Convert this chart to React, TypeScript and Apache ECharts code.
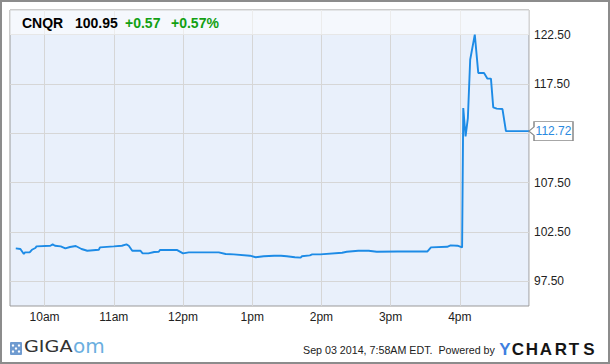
import React, { useEffect, useRef } from "react";
import * as echarts from "echarts";

// ---- data ----
const times = [
  "9:35", "9:39", "9:42", "9:43", "9:47", "9:49", "9:52", "9:53",
  "10:05", "10:07", "10:09", "10:14", "10:18", "10:22", "10:27", "10:32", "10:37", "10:47", "10:48",
  "11:00", "11:07", "11:11", "11:13", "11:16", "11:23", "11:25", "11:30", "11:35", "11:39", "11:40", "11:55",
  "12:00", "12:05", "12:15", "12:31", "12:37", "12:44", "12:58",
  "13:03", "13:10", "13:19", "13:25", "13:30", "13:37", "13:42", "13:43", "13:50", "13:52", "13:59",
  "14:18", "14:22", "14:32", "14:41", "14:48",
  "15:06", "15:32", "15:35", "15:49", "15:52", "15:58",
  "16:02", "16:03", "16:05", "16:07", "16:09", "16:13", "16:16", "16:21", "16:24", "16:27", "16:29", "16:32", "16:37", "16:40",
  "17:00",
];
const prices = [
  100.84, 100.78, 100.27, 100.43, 100.43, 100.7, 100.88, 101.04,
  101.11, 101.24, 101.11, 101.04, 100.84, 100.98, 101.08, 100.78, 100.6, 100.7, 100.94,
  101.04, 101.11, 101.24, 101.11, 100.6, 100.6, 100.33, 100.33, 100.47, 100.5, 100.67, 100.67,
  100.33, 100.43, 100.43, 100.43, 100.27, 100.23, 100.1,
  99.94, 100.04, 100.1, 100.1, 100.04, 99.94, 99.9, 100.04, 100.13, 100.23, 100.23,
  100.4, 100.5, 100.6, 100.6, 100.5,
  100.53, 100.53, 100.94, 101.0, 101.14, 101.11,
  100.94, 115.07, 112.19, 114.05, 119.96, 122.5, 118.62, 118.62, 118.04, 118.04, 115.13, 115.0, 114.96, 112.72,
  112.72,
];
// 112.50 is hidden behind the last-price callout in the reference
const yTickLabels = [97.5, 102.5, 107.5, 117.5, 122.5];
const hourLabels = ["10am", "11am", "12pm", "1pm", "2pm", "3pm", "4pm"];
const firstLabelHour = 10;
const ticker = "CNQR";
const quote = "100.95";
const change = "+0.57";
const changePct = "+0.57%";
const lastPrice = 112.72;
const footerText = "Sep 03 2014, 7:58AM EDT.  Powered by";
const brandLetters = ["Y", "C", "H", "A", "R", "T", "S"];

const toMin = (t: string) => {
  const [h, m] = t.split(":").map(Number);
  return h * 60 + m;
};

const FONT = '"Liberation Sans", Arial, sans-serif';

export default function App() {
  const ref = useRef<HTMLDivElement>(null);

  useEffect(() => {
    document.body.style.margin = "0";
    const chart = echarts.init(ref.current!, null, { renderer: "svg" });
    const data = times.map((t, i) => [toMin(t), prices[i]]);
    const lastTime = toMin(times[times.length - 1]);

    const brandX = [505, 518, 532, 546, 561, 574, 589];

    chart.setOption({
      animation: false,
      grid: {
        left: 10,
        top: 10,
        width: 519,
        height: 296,
        show: true,
        backgroundColor: "#e9f0fb",
        borderColor: "#999999",
        borderWidth: 1,
      },
      xAxis: {
        type: "value",
        min: 570,
        max: 1020,
        interval: 30,
        axisLine: { show: false },
        axisTick: { show: false },
        splitLine: {
          show: true,
          lineStyle: { color: ["rgba(0,0,0,0)", "#d6d6d6"], width: 1 },
        },
        axisLabel: {
          margin: 5,
          color: "#222",
          fontSize: 12,
          fontFamily: FONT,
          formatter: (v: number) => {
            if (v % 60 !== 0) return "";
            const idx = v / 60 - firstLabelHour;
            return hourLabels[idx] ?? "";
          },
        },
      },
      yAxis: {
        type: "value",
        position: "right",
        min: 95,
        max: 125,
        interval: 2.5,
        axisLine: { show: false },
        axisTick: { show: false },
        splitLine: {
          show: true,
          lineStyle: { color: ["rgba(0,0,0,0)", "#d6d6d6"], width: 1 },
        },
        axisLabel: {
          margin: 5,
          color: "#222",
          fontSize: 12,
          fontFamily: FONT,
          formatter: (v: number) => {
            const hit = yTickLabels.find((t) => Math.abs(t - v) < 1e-6);
            return hit !== undefined ? hit.toFixed(2) : "";
          },
        },
      },
      series: [
        {
          type: "line",
          data,
          showSymbol: false,
          symbol: "none",
          lineStyle: { color: "#1d8be6", width: 1.9 },
          itemStyle: { color: "#1d8be6" },
          markArea: {
            silent: true,
            itemStyle: { color: "rgba(255,255,255,0.55)" },
            data: [[{ yAxis: 122.5 }, { yAxis: 125 }]],
          },
          markPoint: {
            silent: true,
            symbol: "path://M0,9L5,5L5,0L44,0L44,18L5,18L5,13Z",
            symbolSize: [44, 19],
            symbolKeepAspect: false,
            symbolOffset: ["50%", 0],
            itemStyle: { color: "#ffffff", borderColor: "#8a8a8a", borderWidth: 1 },
            label: {
              show: true,
              position: "inside",
              offset: [2.5, 0],
              color: "#2a8ae0",
              fontSize: 12,
              fontFamily: FONT,
              formatter: () => lastPrice.toFixed(2),
            },
            data: [{ coord: [lastTime, lastPrice] }],
          },
        },
      ],
      graphic: [
        {
          type: "rect",
          z: 100,
          shape: { x: 1, y: 1, width: 608, height: 362 },
          style: { fill: "none", stroke: "#8c8c8c", lineWidth: 2 },
          silent: true,
        },
        {
          type: "text",
          z: 100,
          x: 22,
          y: 23,
          style: { text: ticker, font: `bold 14px ${FONT}`, fill: "#000", verticalAlign: "middle" },
        },
        {
          type: "text",
          z: 100,
          x: 75,
          y: 23,
          style: { text: quote, font: `bold 14px ${FONT}`, fill: "#000", verticalAlign: "middle" },
        },
        {
          type: "text",
          z: 100,
          x: 125,
          y: 23,
          style: { text: change, font: `bold 14px ${FONT}`, fill: "#13a013", verticalAlign: "middle" },
        },
        {
          type: "text",
          z: 100,
          x: 171,
          y: 23,
          style: { text: changePct, font: `bold 14px ${FONT}`, fill: "#13a013", verticalAlign: "middle" },
        },
        // GIGAom logo
        {
          type: "group",
          z: 100,
          x: 10,
          y: 342,
          children: [
            { type: "rect", shape: { x: 0, y: 0, width: 12, height: 13, r: 1 }, style: { fill: "#6f9bd0" } },
            { type: "circle", shape: { cx: 3, cy: 3.5, r: 1.2 }, style: { fill: "#fff" } },
            { type: "circle", shape: { cx: 9, cy: 3.5, r: 1.2 }, style: { fill: "#fff" } },
            { type: "circle", shape: { cx: 6, cy: 6.5, r: 1.2 }, style: { fill: "#fff" } },
            { type: "circle", shape: { cx: 3, cy: 9.5, r: 1.2 }, style: { fill: "#fff" } },
            { type: "circle", shape: { cx: 9, cy: 9.5, r: 1.2 }, style: { fill: "#fff" } },
          ],
        },
        {
          type: "text",
          z: 100,
          x: 24,
          y: 355,
          scaleX: 1.2,
          style: { text: "GIGA", font: `16px "DejaVu Sans", sans-serif`, fill: "#333", verticalAlign: "bottom" },
        },
        {
          type: "text",
          z: 100,
          x: 73,
          y: 356,
          style: { text: "om", font: `20px "DejaVu Sans", sans-serif`, fill: "#6aaee0", verticalAlign: "bottom" },
        },
        {
          type: "text",
          z: 100,
          x: 303,
          y: 350,
          style: { text: footerText, font: `10.7px ${FONT}`, fill: "#222", verticalAlign: "middle" },
        },
        ...brandLetters.map((ch, i) => ({
          type: "text",
          z: 100,
          x: brandX[i],
          y: 349,
          style: {
            text: ch,
            font: `bold 17px ${FONT}`,
            fill: i === 0 ? "#3f7fe0" : "#151515",
            align: "center",
            verticalAlign: "middle",
          },
        })),
      ],
    });

    return () => chart.dispose();
  }, []);

  return (
    <div
      ref={ref}
      style={{ position: "fixed", left: 0, top: 0, width: 610, height: 364, background: "#fff" }}
    />
  );
}
